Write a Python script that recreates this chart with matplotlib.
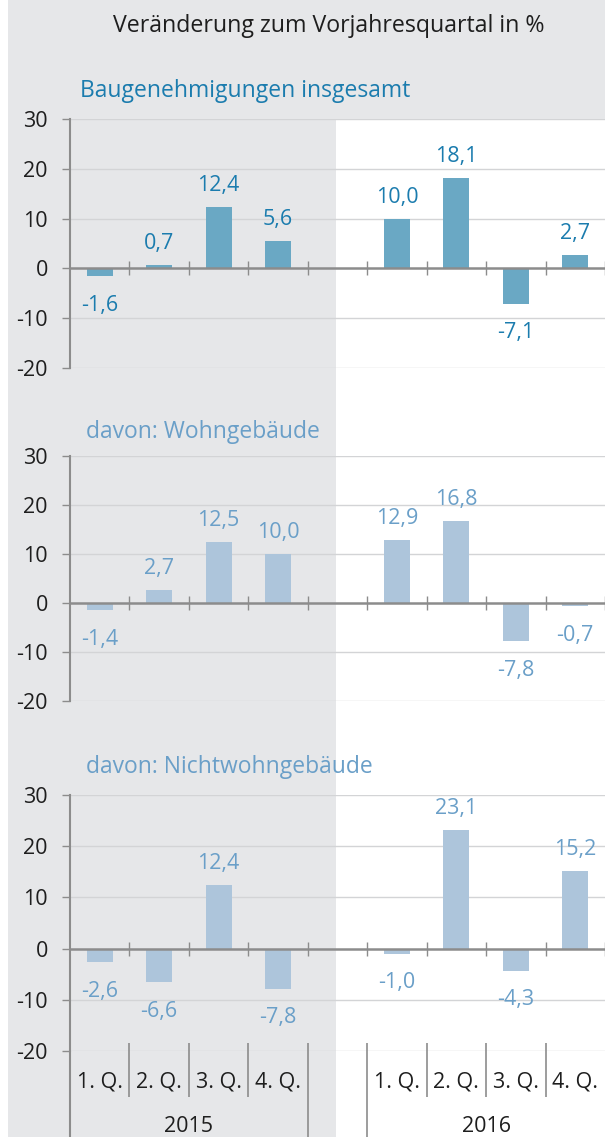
import numpy as np
import matplotlib
matplotlib.use("Agg")
import matplotlib.pyplot as plt
from matplotlib.patches import Rectangle

plt.rcParams['font.family'] = ['Open Sans', 'DejaVu Sans']
plt.rcParams['axes.unicode_minus'] = False

# ==== data ====
quarters = ["1. Q.", "2. Q.", "3. Q.", "4. Q."]
years = ["2015", "2016"]
panel_titles = ["Baugenehmigungen insgesamt", "davon: Wohngebäude", "davon: Nichtwohngebäude"]

insgesamt = [-1.6, 0.7, 12.4, 5.6, 10.0, 18.1, -7.1, 2.7]
wohngebaeude = [-1.4, 2.7, 12.5, 10.0, 12.9, 16.8, -7.8, -0.7]
nichtwohngebaeude = [-2.6, -6.6, 12.4, -7.8, -1.0, 23.1, -4.3, 15.2]

series = [insgesamt, wohngebaeude, nichtwohngebaeude]

# slot positions: 4 quarters, one empty slot, 4 quarters
xpos = [0, 1, 2, 3, 5, 6, 7, 8]
bounds = np.arange(-0.5, 9.0, 1.0)

# ==== style ====
W, H = 605, 1137
GRAY_BG = "#e6e7e9"
AXIS_GRAY = "#8c8c8c"
GRID = "#d3d4d6"
TXT = "#1e1e1e"
bar_cols = ["#6aa8c4", "#adc5db", "#adc5db"]
lab_cols = ["#1b7cae", "#6a9fc8", "#6a9fc8"]
FS = 15.5

# pixel rows of the 30 and -20 gridlines for each panel
panel_px = [(119, 368), (456, 701), (795, 1051)]
title_px = [(80, 97), (86, 438), (86, 773)]


def fx(px):
    return px / W


def fy(py):
    return 1 - py / H


fig = plt.figure(figsize=(W / 100, H / 100), dpi=100)
fig.patch.set_facecolor("white")

# gray background (left half and top band)
fig.add_artist(Rectangle((fx(8), 0), fx(336) - fx(8), 1, transform=fig.transFigure,
                         facecolor=GRAY_BG, edgecolor="none", zorder=-10))
fig.add_artist(Rectangle((fx(8), fy(119)), 1 - fx(8), 119 / H, transform=fig.transFigure,
                         facecolor=GRAY_BG, edgecolor="none", zorder=-10))

fig.text(fx(329), fy(32), "Veränderung zum Vorjahresquartal in %", ha="center", va="baseline",
         fontsize=16.7, color=TXT)

for i, vals in enumerate(series):
    top, bot = panel_px[i]
    ax = fig.add_axes([fx(70), fy(bot), 1 - fx(70), (bot - top) / H])
    ax.patch.set_alpha(0)
    ax.set_xlim(-0.5, 8.5)
    ax.set_ylim(-20, 30)
    for s in ["top", "right", "bottom"]:
        ax.spines[s].set_visible(False)
    ax.spines["left"].set_color(AXIS_GRAY)
    ax.spines["left"].set_linewidth(1.5)
    ax.set_xticks([])
    ax.set_yticks([-20, -10, 0, 10, 20, 30])
    ax.tick_params(axis="y", length=6, width=1, color=AXIS_GRAY, pad=10,
                   labelsize=FS, labelcolor=TXT)

    for yv in [-20, -10, 10, 20, 30]:
        ax.axhline(yv, color=GRID, lw=1, zorder=0)
    ax.axhline(0, color=AXIS_GRAY, lw=1.8, zorder=3)
    ax.plot(bounds[1:], np.zeros(len(bounds) - 1), ls="none", marker="|", ms=10, mew=1,
            color=AXIS_GRAY, zorder=3, clip_on=False)

    ax.bar(xpos, vals, width=0.44, color=bar_cols[i], zorder=2)
    for x, v in zip(xpos, vals):
        off = 11.5 if v >= 0 else -25
        ax.annotate(f"{v:.1f}".replace(".", ","), (x, v), xytext=(0, off),
                    textcoords="offset points", ha="center", va="baseline",
                    fontsize=FS, color=lab_cols[i])

    tx, ty = title_px[i]
    fig.text(fx(tx), fy(ty), panel_titles[i], ha="left", va="baseline",
             fontsize=16.5, color=lab_cols[i])

# ==== category axis below the last panel ====
axb = fig.add_axes([fx(70), 0, 1 - fx(70), (H - 1051) / H])
axb.patch.set_alpha(0)
axb.set_xlim(-0.5, 8.5)
axb.set_ylim(H - 1051, 0)
axb.axis("off")

short = [0.5, 1.5, 2.5, 5.5, 6.5, 7.5]
axb.vlines(short, -8, 46, color=AXIS_GRAY, lw=1.2, clip_on=False)
axb.vlines([3.5, 4.5], -8, H - 1051, color=AXIS_GRAY, lw=1.2, clip_on=False)
axb.vlines([-0.5], 0, H - 1051, color=AXIS_GRAY, lw=1.5, clip_on=False)

for x, q in zip(xpos, quarters * 2):
    axb.text(x, 31, q, ha="center", va="center", fontsize=FS, color=TXT)
axb.text(1.5, 76, years[0], ha="center", va="center", fontsize=FS, color=TXT)
axb.text(6.5, 76, years[1], ha="center", va="center", fontsize=FS, color=TXT)

fig.savefig("out.png", dpi=100)
